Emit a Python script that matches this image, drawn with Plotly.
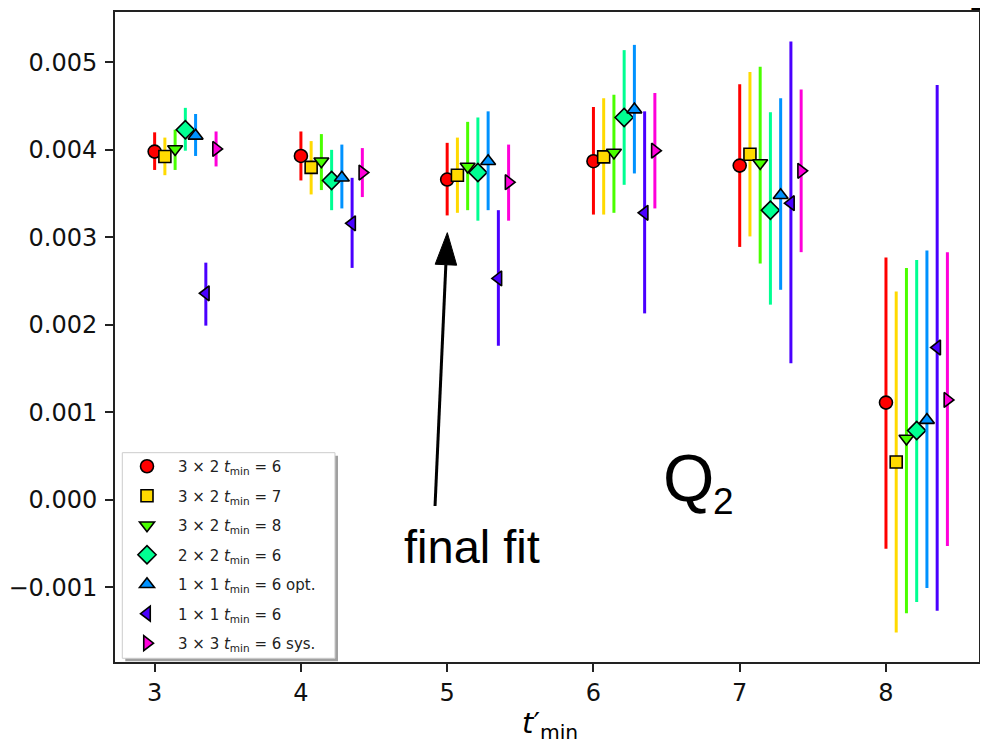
import plotly.graph_objects as go

# ---- data -------------------------------------------------------------
t_min_prime = [3, 4, 5, 6, 7, 8]
x_tick_labels = ["3", "4", "5", "6", "7", "8"]
y_tick_vals = [-0.001, 0.0, 0.001, 0.002, 0.003, 0.004, 0.005]
y_tick_labels = ["\u22120.001", "0.000", "0.001", "0.002", "0.003", "0.004", "0.005"]

series_names = [
    "3 \u00d7 2 <i>t</i><sub>min</sub> = 6",
    "3 \u00d7 2 <i>t</i><sub>min</sub> = 7",
    "3 \u00d7 2 <i>t</i><sub>min</sub> = 8",
    "2 \u00d7 2 <i>t</i><sub>min</sub> = 6",
    "1 \u00d7 1 <i>t</i><sub>min</sub> = 6 opt.",
    "1 \u00d7 1 <i>t</i><sub>min</sub> = 6",
    "3 \u00d7 3 <i>t</i><sub>min</sub> = 6 sys.",
]

val_3x2_t6 = [0.00398, 0.00393, 0.00366, 0.00387, 0.00382, 0.00111]
hi_3x2_t6 = [0.00420, 0.00421, 0.00408, 0.00449, 0.00475, 0.00277]
lo_3x2_t6 = [0.00377, 0.00365, 0.00325, 0.00326, 0.00289, -0.00056]

val_3x2_t7 = [0.003924, 0.00380, 0.00371, 0.00392, 0.00395, 0.00043]
hi_3x2_t7 = [0.00414, 0.00410, 0.00414, 0.00459, 0.00489, 0.00238]
lo_3x2_t7 = [0.00371, 0.00349, 0.00328, 0.00326, 0.00301, -0.00152]

val_3x2_t8 = [0.00401, 0.00387, 0.00381, 0.00397, 0.00385, 0.00070]
hi_3x2_t8 = [0.00423, 0.00418, 0.00432, 0.00463, 0.00495, 0.00265]
lo_3x2_t8 = [0.00377, 0.00354, 0.00331, 0.00328, 0.00270, -0.00130]

val_2x2_t6 = [0.00423, 0.00365, 0.00374, 0.00437, 0.00331, 0.00079]
hi_2x2_t6 = [0.00448, 0.00400, 0.00437, 0.00514, 0.00443, 0.00274]
lo_2x2_t6 = [0.00399, 0.00331, 0.00319, 0.00360, 0.00223, -0.00117]

val_1x1_opt = [0.00416, 0.00368, 0.00387, 0.00446, 0.00348, 0.00091]
hi_1x1_opt = [0.00441, 0.00406, 0.00444, 0.00520, 0.00459, 0.00285]
lo_1x1_opt = [0.00393, 0.00333, 0.00331, 0.00373, 0.00240, -0.00101]

val_1x1_t6 = [0.00236, 0.00316, 0.00253, 0.00328, 0.00339, 0.00174]
hi_1x1_t6 = [0.00271, 0.00368, 0.00331, 0.00444, 0.00524, 0.00474]
lo_1x1_t6 = [0.00199, 0.00265, 0.00176, 0.00213, 0.00156, -0.00127]

val_3x3_sys = [0.00401, 0.00374, 0.00363, 0.00399, 0.00376, 0.00114]
hi_3x3_sys = [0.00421, 0.00402, 0.00406, 0.00465, 0.00469, 0.00283]
lo_3x3_sys = [0.00381, 0.00346, 0.00319, 0.00333, 0.00283, -0.00053]

values = [val_3x2_t6, val_3x2_t7, val_3x2_t8, val_2x2_t6, val_1x1_opt, val_1x1_t6, val_3x3_sys]
uppers = [hi_3x2_t6, hi_3x2_t7, hi_3x2_t8, hi_2x2_t6, hi_1x1_opt, hi_1x1_t6, hi_3x3_sys]
lowers = [lo_3x2_t6, lo_3x2_t7, lo_3x2_t8, lo_2x2_t6, lo_1x1_opt, lo_1x1_t6, lo_3x3_sys]

# ---- styles -----------------------------------------------------------
colors = ["#ff0000", "#ffda00", "#4aff00", "#00ff92", "#0092ff", "#4a00ff", "#ff00da"]
symbols = ["circle", "square", "triangle-down", "diamond", "triangle-up", "triangle-left", "triangle-right"]
sizes = [13, 12, 13, 14, 13, 13, 13]
offset_step = 0.07

fig = go.Figure()
for i, (name, v, hi, lo) in enumerate(zip(series_names, values, uppers, lowers)):
    xs = [t + i * offset_step for t in t_min_prime]
    fig.add_trace(go.Scatter(
        x=xs, y=v, mode="markers", name=name,
        legendgroup=f"g{i}",
        marker=dict(symbol=symbols[i], size=sizes[i], color=colors[i],
                    line=dict(color="black", width=1.6)),
        error_y=dict(type="data", symmetric=False,
                     array=[h - c for h, c in zip(hi, v)],
                     arrayminus=[c - l for c, l in zip(v, lo)],
                     color=colors[i], thickness=3, width=0),
    ))

xr = [2.729, 8.636]
yr = [-0.001856, 0.005576]

axis_common = dict(showline=True, mirror=True, linecolor="#222", linewidth=1.8,
                   ticks="outside", ticklen=8, tickwidth=1.5, tickcolor="#222",
                   showgrid=False, zeroline=False, automargin=False,
                   tickfont=dict(family="DejaVu Sans", size=24, color="#111"))

# the page body adds an 8px margin; keep the figure small enough to avoid scrollbars
fig.update_layout(
    width=972, height=739,
    margin=dict(l=107, r=1, t=4, b=85, autoexpand=False),
    plot_bgcolor="white", paper_bgcolor="white",
    xaxis=dict(range=xr, tickvals=t_min_prime, ticktext=x_tick_labels, **axis_common),
    yaxis=dict(range=yr, tickvals=y_tick_vals, ticktext=y_tick_labels,
               ticklabelstandoff=3, **axis_common),
    legend=dict(x=0.00116, y=0.3262, xanchor="left", yanchor="top",
                bgcolor="rgba(0,0,0,0)", borderwidth=0,
                font=dict(family="DejaVu Sans", size=15, color="#222"),
                tracegroupgap=7, itemwidth=52),
    showlegend=True,
)

# legend frame (shadow + white box)
fig.add_shape(type="rect", xref="paper", yref="paper",
              x0=0.01192, x1=0.2581, y0=0.0010, y1=0.3174,
              fillcolor="#a0a0a0", line=dict(width=0), layer="above")
fig.add_shape(type="rect", xref="paper", yref="paper",
              x0=0.00845, x1=0.2546, y0=0.0057, y1=0.3220,
              fillcolor="white", line=dict(color="#cccccc", width=1), layer="above")

# arrow "final fit"
fig.add_shape(type="line", xref="x", yref="y",
              x0=4.917, y0=-0.0000723, x1=4.991, y1=0.002687,
              line=dict(color="black", width=3))
fig.add_shape(type="path", xref="x", yref="y",
              path="M 5.001 0.003053 L 4.918 0.002692 L 5.065 0.002681 Z",
              fillcolor="black", line=dict(color="black", width=1))

fig.add_annotation(x=5.171, y=-0.00053, xref="x", yref="y", text="final fit",
                   showarrow=False, font=dict(family="Liberation Sans", size=47, color="black"))
fig.add_annotation(x=6.649, y=0.000248, xref="x", yref="y", text="Q",
                   showarrow=False, font=dict(family="Liberation Sans", size=66, color="black"))
fig.add_annotation(x=6.889, y=-0.0000152, xref="x", yref="y", text="2",
                   showarrow=False, font=dict(family="Liberation Sans", size=37, color="black"))

# x-axis title
fig.add_annotation(x=0.5035, y=-0.065, xref="paper", yref="paper", xanchor="center", yanchor="top",
                   text="<i>t</i>\u2032<sub>min</sub>", showarrow=False,
                   font=dict(family="DejaVu Sans", size=29, color="black"))

# cut-off label at the top right
fig.add_annotation(x=0.9988, y=0.9908, xref="paper", yref="paper", xanchor="center", yanchor="bottom",
                   text="2", showarrow=False,
                   font=dict(family="Liberation Sans", size=28, color="black"))

fig.write_html("out.html")
